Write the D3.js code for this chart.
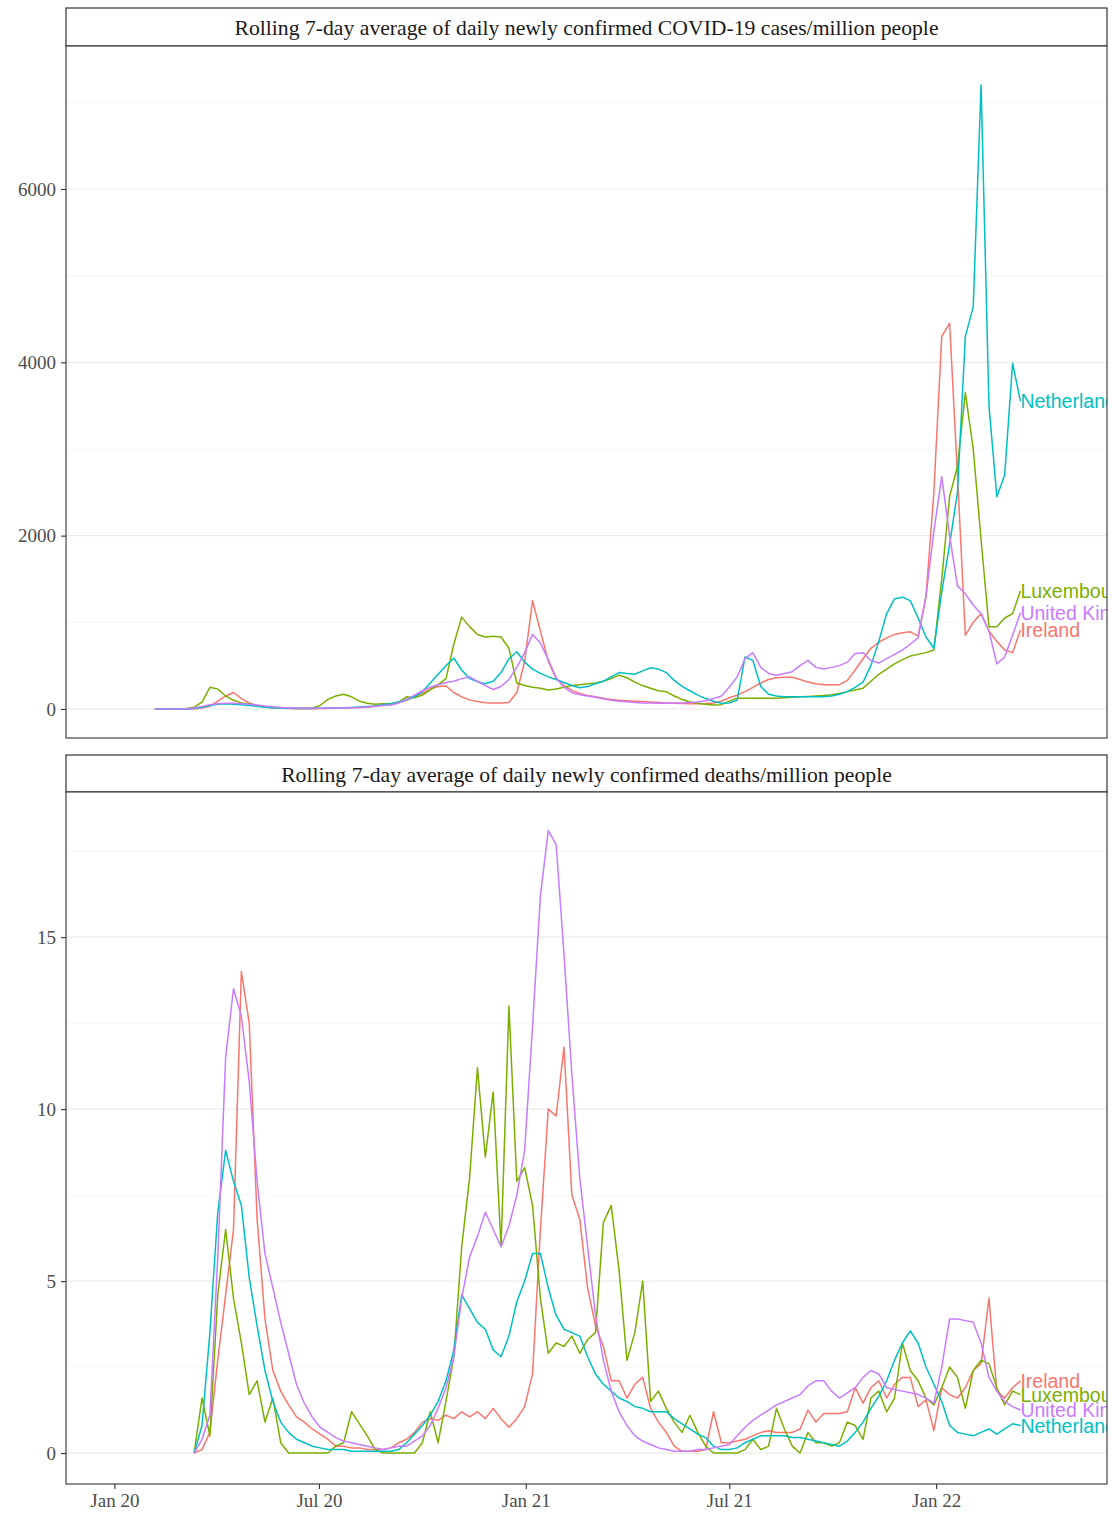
<!DOCTYPE html>
<html><head><meta charset="utf-8">
<script src="https://cdn.jsdelivr.net/npm/d3@7"></script>
<style>body{margin:0;background:#fff;} svg{display:block;}</style>
</head><body>
<svg id="chart" width="1112" height="1519"></svg>
<script>
const countries = ["Ireland", "Luxembourg", "Netherlands", "United Kingdom"];
const colors = ["#F8766D", "#7CAE00", "#00BFC4", "#C77CFF"];
const startDate = "2020-02-06";
const stepDays = 7;
const stripTitles = [
  "Rolling 7-day average of daily newly confirmed COVID-19 cases/million people",
  "Rolling 7-day average of daily newly confirmed deaths/million people"
];
const xTickDates = ["2020-01-01", "2020-07-01", "2021-01-01", "2021-07-01", "2022-01-01"];
const xTickLabels = ["Jan 20", "Jul 20", "Jan 21", "Jul 21", "Jan 22"];
const casesTicks = [0, 2000, 4000, 6000];
const casesMinorTicks = [1000, 3000, 5000, 7000];
const deathsTicks = [0, 5, 10, 15];
const deathsMinorTicks = [2.5, 7.5, 12.5, 17.5];

const casesIreland = [0,0,0,0,0,2,10,30,90,150,
 190,120,70,40,25,15,10,5,3,3,
 3,4,5,10,15,15,18,20,30,45,
 50,70,100,140,180,230,260,265,190,140,
 105,85,72,68,68,75,190,550,1250,900,
 550,350,270,215,180,155,140,125,110,100,
 95,90,85,80,75,70,65,62,60,60,
 62,70,90,130,160,200,250,300,340,360,
 365,365,340,310,290,280,280,280,330,450,
 580,700,770,820,860,880,890,840,1300,2500,
 4300,4450,2700,850,1000,1100,900,780,680,650,
 910];
const casesLuxembourg = [0,0,0,0,5,20,80,250,230,150,
 100,70,60,40,25,15,10,8,8,10,
 10,40,110,150,170,140,90,65,55,60,
 60,80,140,130,160,220,280,350,750,1060,
 950,860,830,840,830,700,300,270,250,240,
 220,230,250,270,280,290,300,320,350,390,
 360,310,270,240,210,200,150,110,80,65,
 55,45,50,90,125,125,125,125,125,125,
 130,135,140,145,150,155,165,180,200,220,
 240,320,400,460,520,570,610,630,650,680,
 1500,2450,2800,3650,3000,1950,950,950,1050,1100,
 1360];
const casesNetherlands = [0,0,0,0,1,5,20,40,55,60,
 55,50,40,30,20,15,10,8,6,5,
 6,8,10,12,15,18,22,28,35,50,
 60,80,110,140,200,300,400,500,585,450,
 350,315,290,320,420,580,660,540,460,410,
 370,340,305,270,245,260,290,320,370,420,
 410,400,440,475,460,420,330,260,210,160,
 120,90,65,70,100,600,560,260,170,150,
 140,140,140,140,140,140,150,170,200,250,
 310,500,780,1100,1270,1290,1250,1050,830,700,
 1350,1900,2500,4300,4640,7200,3500,2450,2700,3990,
 3550];
const casesUK = [0,0,0,0,2,10,30,50,60,65,
 65,60,55,45,35,25,18,12,10,8,
 8,8,10,12,14,15,18,25,30,40,
 45,70,110,160,210,250,280,305,320,350,
 370,320,270,225,260,340,480,650,860,760,
 570,360,250,190,165,150,135,115,100,90,
 82,75,70,68,65,65,68,70,75,80,
 95,120,150,250,370,580,650,480,410,390,
 410,430,500,560,480,460,480,500,540,640,
 650,560,530,580,630,680,750,820,1300,2050,
 2680,2000,1420,1330,1200,1100,900,520,600,850,
 1110];

const deathsIreland = [null,null,null,null,null,0,0.1,0.6,2.7,4.6,
 6.5,14.0,12.5,6.8,3.9,2.4,1.8,1.4,1.05,0.9,
 0.7,0.55,0.4,0.2,0.2,0.15,0.15,0.1,0.1,0.1,
 0.15,0.3,0.4,0.6,0.9,1.0,0.95,1.1,1.0,1.2,
 1.05,1.2,1.0,1.3,1.0,0.75,1.0,1.35,2.3,6.5,
 10.0,9.8,11.8,7.5,6.8,4.8,3.7,3.1,2.1,2.1,
 1.6,2.0,2.2,1.3,0.9,0.6,0.2,0.05,0.05,0.05,
 0.1,1.2,0.3,0.3,0.35,0.4,0.5,0.6,0.65,0.6,
 0.6,0.6,0.7,1.25,0.9,1.15,1.15,1.15,1.2,1.9,
 1.45,1.9,2.1,1.6,2.0,2.2,2.2,1.35,1.55,0.65,
 1.9,1.7,1.6,1.9,2.4,2.6,4.5,1.8,1.6,1.9,
 2.1];
const deathsLuxembourg = [null,null,null,null,null,0,1.6,0.5,4.6,6.5,
 4.5,3.2,1.7,2.1,0.9,1.6,0.3,0,0,0,
 0,0,0,0.2,0.3,1.2,0.85,0.5,0.1,0,
 0,0,0,0,0.3,1.2,0.3,1.5,2.8,6.0,
 8.0,11.2,8.6,10.5,6.0,13.0,7.9,8.3,7.2,4.5,
 2.9,3.2,3.1,3.4,2.9,3.3,3.5,6.7,7.2,5.3,
 2.7,3.5,5.0,1.5,1.8,1.3,0.9,0.6,1.1,0.6,
 0.2,0,0,0,0,0.1,0.4,0.1,0.2,1.3,
 0.7,0.2,0,0.6,0.3,0.3,0.2,0.3,0.9,0.8,
 0.4,1.6,1.8,1.2,1.6,3.2,2.4,2.1,1.6,1.4,
 1.9,2.5,2.2,1.3,2.4,2.7,2.6,1.9,1.4,1.8,
 1.7];
const deathsNetherlands = [null,null,null,null,null,0,0.8,3.5,7.0,8.8,
 7.9,7.2,5.1,3.7,2.4,1.5,0.9,0.6,0.4,0.3,
 0.2,0.15,0.1,0.1,0.1,0.05,0.05,0.05,0.05,0.05,
 0.05,0.1,0.3,0.55,0.8,1.1,1.5,2.1,3.0,4.6,
 4.2,3.8,3.6,3.0,2.8,3.4,4.4,5.0,5.8,5.8,
 4.8,4.0,3.6,3.5,3.4,2.8,2.3,2.0,1.8,1.6,
 1.5,1.35,1.3,1.2,1.2,1.2,1.0,0.85,0.7,0.55,
 0.45,0.2,0.1,0.1,0.15,0.3,0.4,0.5,0.5,0.5,
 0.5,0.45,0.45,0.4,0.35,0.3,0.25,0.2,0.35,0.6,
 0.9,1.3,1.65,2.1,2.7,3.2,3.55,3.2,2.5,2.0,
 1.5,0.8,0.6,0.55,0.5,0.6,0.7,0.55,0.7,0.85,
 0.8];
const deathsUK = [null,null,null,null,null,0,0.4,1.1,5.7,11.5,
 13.5,12.7,10.8,7.9,5.8,4.8,3.8,2.9,2.0,1.45,
 1.05,0.75,0.6,0.45,0.35,0.3,0.25,0.2,0.15,0.1,
 0.15,0.2,0.2,0.35,0.5,0.8,1.3,1.9,2.8,4.5,
 5.7,6.3,7.0,6.5,6.0,6.6,7.5,8.8,12.4,16.2,
 18.1,17.7,14.5,11.0,8.0,6.0,4.0,2.7,1.8,1.2,
 0.8,0.5,0.35,0.25,0.15,0.1,0.05,0.05,0.05,0.1,
 0.1,0.15,0.2,0.25,0.5,0.75,0.95,1.1,1.25,1.4,
 1.5,1.6,1.7,1.95,2.1,2.1,1.8,1.6,1.75,1.9,
 2.2,2.4,2.3,1.9,1.85,1.8,1.75,1.7,1.6,1.45,
 2.5,3.9,3.9,3.85,3.8,3.2,2.2,1.8,1.5,1.35,
 1.25];

const svg = d3.select("#chart");
const parse = d3.utcParse("%Y-%m-%d");
const t0 = parse(startDate);
const dates = casesIreland.map((_, i) => d3.utcDay.offset(t0, i * stepDays));
const LEFT = 66, RIGHT = 1107;
const x = d3.scaleUtc().domain([parse("2019-11-19"), parse("2022-06-02")]).range([LEFT, RIGHT]);

const panels = [
  {title: stripTitles[0], series: [casesIreland, casesLuxembourg, casesNetherlands, casesUK],
   domain: [-335, 7650], ticks: casesTicks, minor: casesMinorTicks, stripTop: 8, top: 46, bottom: 738, xaxis: false},
  {title: stripTitles[1], series: [deathsIreland, deathsLuxembourg, deathsNetherlands, deathsUK],
   domain: [-0.9, 19.22], ticks: deathsTicks, minor: deathsMinorTicks, stripTop: 755, top: 792, bottom: 1484, xaxis: true}
];

const serif = "'Liberation Serif', 'DejaVu Serif', serif";
const sans = "'Liberation Sans', Arial, sans-serif";

panels.forEach((p, pi) => {
  const y = d3.scaleLinear().domain(p.domain).range([p.bottom, p.top]);
  const g = svg.append("g");
  const clipId = "clip" + pi;
  svg.append("clipPath").attr("id", clipId)
    .append("rect").attr("x", LEFT).attr("y", p.top).attr("width", RIGHT - LEFT).attr("height", p.bottom - p.top);

  // strip
  g.append("rect").attr("x", LEFT).attr("y", p.stripTop).attr("width", RIGHT - LEFT).attr("height", p.top - p.stripTop)
    .attr("fill", "#ffffff").attr("stroke", "#333333").attr("stroke-width", 1.2);
  g.append("text").attr("x", (LEFT + RIGHT) / 2).attr("y", (p.stripTop + p.top) / 2 + 1)
    .attr("text-anchor", "middle").attr("dominant-baseline", "central")
    .attr("font-family", serif).attr("font-size", 21.7).attr("fill", "#1A1A1A").text(p.title);

  // panel background + grid
  g.append("rect").attr("x", LEFT).attr("y", p.top).attr("width", RIGHT - LEFT).attr("height", p.bottom - p.top).attr("fill", "#fff");
  g.selectAll(".minor").data(p.minor).join("line")
    .attr("x1", LEFT).attr("x2", RIGHT).attr("y1", d => y(d)).attr("y2", d => y(d))
    .attr("stroke", "#F2F2F2").attr("stroke-width", 0.8);
  g.selectAll(".major").data(p.ticks).join("line")
    .attr("x1", LEFT).attr("x2", RIGHT).attr("y1", d => y(d)).attr("y2", d => y(d))
    .attr("stroke", "#EBEBEB").attr("stroke-width", 1.2);

  // lines
  const lg = g.append("g").attr("clip-path", `url(#${clipId})`);
  const line = d3.line().defined(d => d[1] != null).x(d => x(d[0])).y(d => y(d[1]));
  p.series.forEach((vals, si) => {
    const pts = vals.map((v, i) => [dates[i], v]);
    lg.append("path").datum(pts).attr("d", line).attr("fill", "none")
      .attr("stroke", colors[si]).attr("stroke-width", 1.5).attr("stroke-linejoin", "round");
  });
  // end labels (clipped at the panel edge, as in the original)
  p.series.forEach((vals, si) => {
    const last = vals.length - 1;
    lg.append("text").attr("x", x(dates[last])).attr("y", y(vals[last]))
      .attr("dominant-baseline", "central").attr("font-family", sans).attr("font-size", 19.5)
      .attr("fill", colors[si]).text(countries[si]);
  });

  // border
  g.append("rect").attr("x", LEFT).attr("y", p.top).attr("width", RIGHT - LEFT).attr("height", p.bottom - p.top)
    .attr("fill", "none").attr("stroke", "#333333").attr("stroke-width", 1.1);

  // y axis
  const ya = g.append("g").attr("transform", `translate(${LEFT},0)`)
    .call(d3.axisLeft(y).tickValues(p.ticks).tickSize(5).tickPadding(5).tickFormat(d3.format("d")));
  ya.select(".domain").remove();
  ya.selectAll(".tick line").attr("stroke", "#333333").attr("stroke-width", 1.1);
  ya.selectAll(".tick text").attr("font-family", serif).attr("font-size", 19).attr("fill", "#4D4D4D");

  if (p.xaxis) {
    const xa = g.append("g").attr("transform", `translate(0,${p.bottom})`)
      .call(d3.axisBottom(x).tickValues(xTickDates.map(parse)).tickSize(5).tickPadding(5)
        .tickFormat((d, i) => xTickLabels[i]));
    xa.select(".domain").remove();
    xa.selectAll(".tick line").attr("stroke", "#333333").attr("stroke-width", 1.1);
    xa.selectAll(".tick text").attr("font-family", serif).attr("font-size", 19).attr("fill", "#4D4D4D");
  }
});
</script>
</body></html>
